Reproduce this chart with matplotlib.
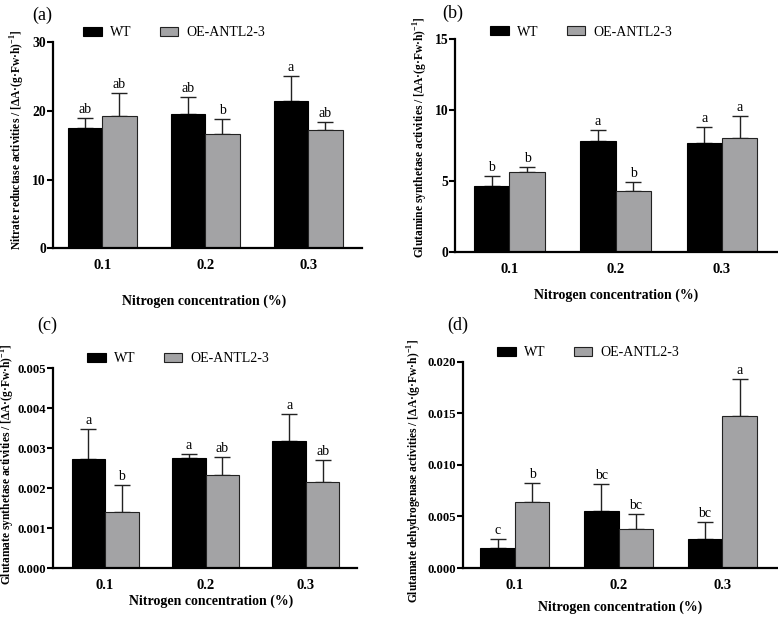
import matplotlib
matplotlib.use('Agg')
import matplotlib.pyplot as plt
from matplotlib.ticker import FormatStrFormatter, MultipleLocator

plt.rcParams['font.family'] = ['Liberation Serif', 'DejaVu Serif']
plt.rcParams['mathtext.fontset'] = 'custom'
plt.rcParams['mathtext.rm'] = 'Liberation Serif'
plt.rcParams['mathtext.bf'] = 'Liberation Serif:bold'

groups = ['0.1', '0.2', '0.3']
series = ['WT', 'OE-ANTL2-3']

# (a) nitrate reductase
nr_wt = [17.5, 19.5, 21.35]
nr_wt_err = [1.5, 2.5, 3.75]
nr_oe = [19.3, 16.6, 17.2]
nr_oe_err = [3.3, 2.2, 1.1]
nr_wt_sig = ['ab', 'ab', 'a']
nr_oe_sig = ['ab', 'b', 'ab']

# (b) glutamine synthetase
gs_wt = [4.67, 7.84, 7.7]
gs_wt_err = [0.7, 0.75, 1.1]
gs_oe = [5.61, 4.3, 8.0]
gs_oe_err = [0.4, 0.65, 1.58]
gs_wt_sig = ['b', 'a', 'a']
gs_oe_sig = ['b', 'b', 'a']

# (c) glutamate synthetase
gogat_wt = [0.00272, 0.00276, 0.00318]
gogat_wt_err = [0.00075, 0.00008, 0.00066]
gogat_oe = [0.00141, 0.00233, 0.00215]
gogat_oe_err = [0.00067, 0.00045, 0.00055]
gogat_wt_sig = ['a', 'a', 'a']
gogat_oe_sig = ['b', 'ab', 'ab']

# (d) glutamate dehydrogenase
gdh_wt = [0.00194, 0.00555, 0.00281]
gdh_wt_err = [0.0009, 0.00258, 0.00161]
gdh_oe = [0.00645, 0.00381, 0.01474]
gdh_oe_err = [0.00178, 0.00145, 0.00355]
gdh_wt_sig = ['c', 'bc', 'bc']
gdh_oe_sig = ['b', 'bc', 'a']

unit = r' / [ΔA·(g·Fw·h)$^{\mathbf{-1}}$]'

panels = [
    dict(tag='(a)', rect=[0.068, 0.604, 0.397, 0.329], xlim=(-0.48, 2.52),
         ylim=30, step=10, fmt='%d', yts=9.8, wt=nr_wt, wte=nr_wt_err, oe=nr_oe,
         oee=nr_oe_err, wts=nr_wt_sig, oes=nr_oe_sig,
         ylab='Nitrate reductase activities',
         tagpos=(42, 15), leg=(83, 33), xl=(0.49, -0.223), yl=(-0.084, 0.524)),
    dict(tag='(b)', rect=[0.585, 0.598, 0.414, 0.340], xlim=(-0.51, 2.52),
         ylim=15, step=5, fmt='%d', yts=9.8, wt=gs_wt, wte=gs_wt_err, oe=gs_oe,
         oee=gs_oe_err, wts=gs_wt_sig, oes=gs_oe_sig,
         ylab='Glutamine synthetase activities',
         tagpos=(453, 13), leg=(490, 32), xl=(0.50, -0.169), yl=(-0.078, 0.54)),
    dict(tag='(c)', rect=[0.068, 0.094, 0.391, 0.319], xlim=(-0.52, 2.51),
         ylim=0.005, step=0.001, fmt='%.3f', yts=9.2, wt=gogat_wt, wte=gogat_wt_err,
         oe=gogat_oe, oee=gogat_oe_err, wts=gogat_wt_sig, oes=gogat_oe_sig,
         ylab='Glutamate synthetase activities',
         tagpos=(47, 325), leg=(87, 359), xl=(0.52, -0.13), yl=(-0.118, 0.52)),
    dict(tag='(d)', rect=[0.595, 0.094, 0.404, 0.329], xlim=(-0.50, 2.53),
         ylim=0.020, step=0.005, fmt='%.3f', yts=9.2, wt=gdh_wt, wte=gdh_wt_err,
         oe=gdh_oe, oee=gdh_oe_err, wts=gdh_wt_sig, oes=gdh_oe_sig,
         ylab='Glutamate dehydrogenase activities',
         tagpos=(458, 325), leg=(497, 353), xl=(0.50, -0.155), yl=(-0.124, 0.47)),
]

W, H = 778, 627
fig = plt.figure(figsize=(W / 100, H / 100), dpi=100)
grey = '#a3a3a5'
w = 0.333
x = list(range(len(groups)))

for p in panels:
    ax = fig.add_axes(p['rect'])
    xw = [i - w / 2 for i in x]
    xo = [i + w / 2 for i in x]
    b1 = ax.bar(xw, p['wt'], w, color='black', edgecolor='black', linewidth=0.8,
                label=series[0], zorder=2)
    b2 = ax.bar(xo, p['oe'], w, color=grey, edgecolor='#222222', linewidth=0.8,
                label=series[1], zorder=2)
    ax.errorbar(xw, p['wt'], yerr=[[0] * 3, p['wte']], fmt='none', ecolor='#222222',
                elinewidth=1.0, capsize=6, capthick=1.0, zorder=1)
    ax.errorbar(xo, p['oe'], yerr=[[0] * 3, p['oee']], fmt='none', ecolor='#222222',
                elinewidth=1.0, capsize=6, capthick=1.0, zorder=1)
    for xs, vals, errs, sigs in ((xw, p['wt'], p['wte'], p['wts']),
                                 (xo, p['oe'], p['oee'], p['oes'])):
        for xi, v, e, s in zip(xs, vals, errs, sigs):
            ax.annotate(s, (xi, v + e), xytext=(0, 1.5), textcoords='offset points',
                        ha='center', va='bottom', fontsize=10)
    ax.set_xlim(*p['xlim'])
    ax.set_ylim(0, p['ylim'])
    ax.yaxis.set_major_locator(MultipleLocator(p['step']))
    ax.yaxis.set_major_formatter(FormatStrFormatter(p['fmt']))
    ax.set_xticks(x)
    ax.set_xticklabels(groups, fontweight='bold', fontsize=10.5)
    ax.tick_params(axis='x', length=0, pad=8)
    ax.tick_params(axis='y', length=4, width=1.5, labelsize=p['yts'], pad=1)
    for lab in ax.get_yticklabels():
        lab.set_fontweight('bold')
    for s in ('top', 'right'):
        ax.spines[s].set_visible(False)
    for s in ('left', 'bottom'):
        ax.spines[s].set_linewidth(1.6)
    ax.set_xlabel('Nitrogen concentration (%)', fontweight='bold', fontsize=10)
    ax.xaxis.set_label_coords(*p['xl'])
    ax.set_ylabel(p['ylab'] + unit, fontweight='bold', fontsize=8.3)
    ax.yaxis.set_label_coords(*p['yl'])
    fig.text(p['tagpos'][0] / W, 1 - p['tagpos'][1] / H, p['tag'], fontsize=13,
             ha='center', va='center')
    ax.legend(handles=[b1, b2], ncol=2, frameon=False, fontsize=10,
              loc='center left', bbox_to_anchor=(p['leg'][0] / W, 1 - p['leg'][1] / H),
              bbox_transform=fig.transFigure, borderpad=0, borderaxespad=0,
              handlelength=1.36, handleheight=0.53, handletextpad=0.6,
              columnspacing=2.0)

fig.savefig('out.png', dpi=100)
